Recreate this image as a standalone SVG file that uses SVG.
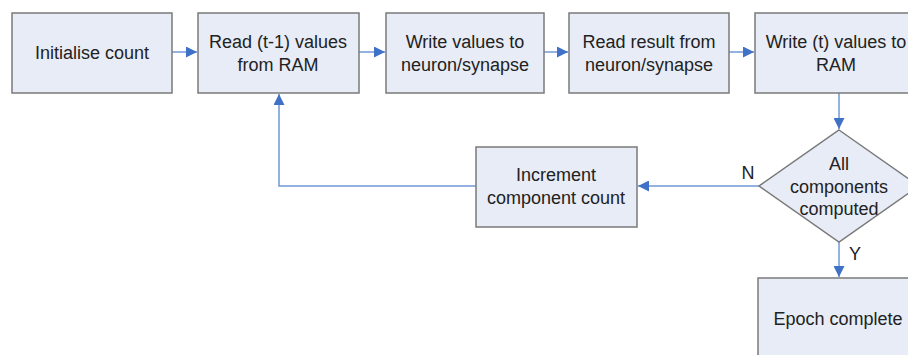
<svg xmlns="http://www.w3.org/2000/svg" width="908" height="355" viewBox="0 0 908 355">
<defs>
<style>
.box{fill:#e7ecf6;stroke:#7a7a7a;stroke-width:1.5}
.t{font-family:"Liberation Sans",Arial,sans-serif;font-size:18px;fill:#222;text-anchor:middle}
.c{fill:none;stroke:#6f98d6;stroke-width:1.5}
</style>
<marker id="ah" viewBox="0 0 10 10" refX="10" refY="5" markerWidth="11" markerHeight="11" markerUnits="userSpaceOnUse" orient="auto">
<path d="M0,0 L10,5 L0,10 z" fill="#3f72c6"/>
</marker>
</defs>
<rect width="908" height="355" fill="#fff"/>
<g id="connectors">
<line class="c" x1="172" y1="52" x2="197" y2="52" marker-end="url(#ah)"/>
<line class="c" x1="359" y1="52" x2="385" y2="52" marker-end="url(#ah)"/>
<line class="c" x1="544" y1="52" x2="568" y2="52" marker-end="url(#ah)"/>
<line class="c" x1="729" y1="52" x2="754" y2="52" marker-end="url(#ah)"/>
<line class="c" x1="839" y1="93" x2="839" y2="129" marker-end="url(#ah)"/>
<line class="c" x1="759" y1="186" x2="638" y2="186" marker-end="url(#ah)"/>
<polyline class="c" points="476,186 279,186 279,94" marker-end="url(#ah)"/>
<line class="c" x1="839" y1="242" x2="839" y2="277" marker-end="url(#ah)"/>
<text class="t" x="748" y="179">N</text>
<text class="t" x="855" y="260">Y</text>
</g>
<g id="n1"><rect class="box" x="12" y="13" width="160" height="80"/><text class="t" x="92" y="59">Initialise count</text></g>
<g id="n2"><rect class="box" x="198" y="13" width="161" height="80"/><text class="t" x="278" y="48">Read (t-1) values</text><text class="t" x="278" y="71">from RAM</text></g>
<g id="n3"><rect class="box" x="386" y="13" width="158" height="80"/><text class="t" x="465" y="48">Write values to</text><text class="t" x="465" y="71">neuron/synapse</text></g>
<g id="n4"><rect class="box" x="569" y="13" width="160" height="80"/><text class="t" x="649" y="48">Read result from</text><text class="t" x="649" y="71">neuron/synapse</text></g>
<g id="n5"><rect class="box" x="755" y="13" width="162" height="80"/><text class="t" x="836" y="48">Write (t) values to</text><text class="t" x="836" y="71">RAM</text></g>
<g id="n6"><polygon class="box" points="839,130 919,186 839,242 759,186"/><text class="t" x="839" y="170">All</text><text class="t" x="839" y="193">components</text><text class="t" x="839" y="215">computed</text></g>
<g id="n7"><rect class="box" x="476" y="147" width="161" height="80"/><text class="t" x="556" y="181">Increment</text><text class="t" x="556" y="204">component count</text></g>
<g id="n8"><rect class="box" x="758" y="278" width="160" height="90"/><text class="t" x="838" y="325">Epoch complete</text></g>
</svg>
